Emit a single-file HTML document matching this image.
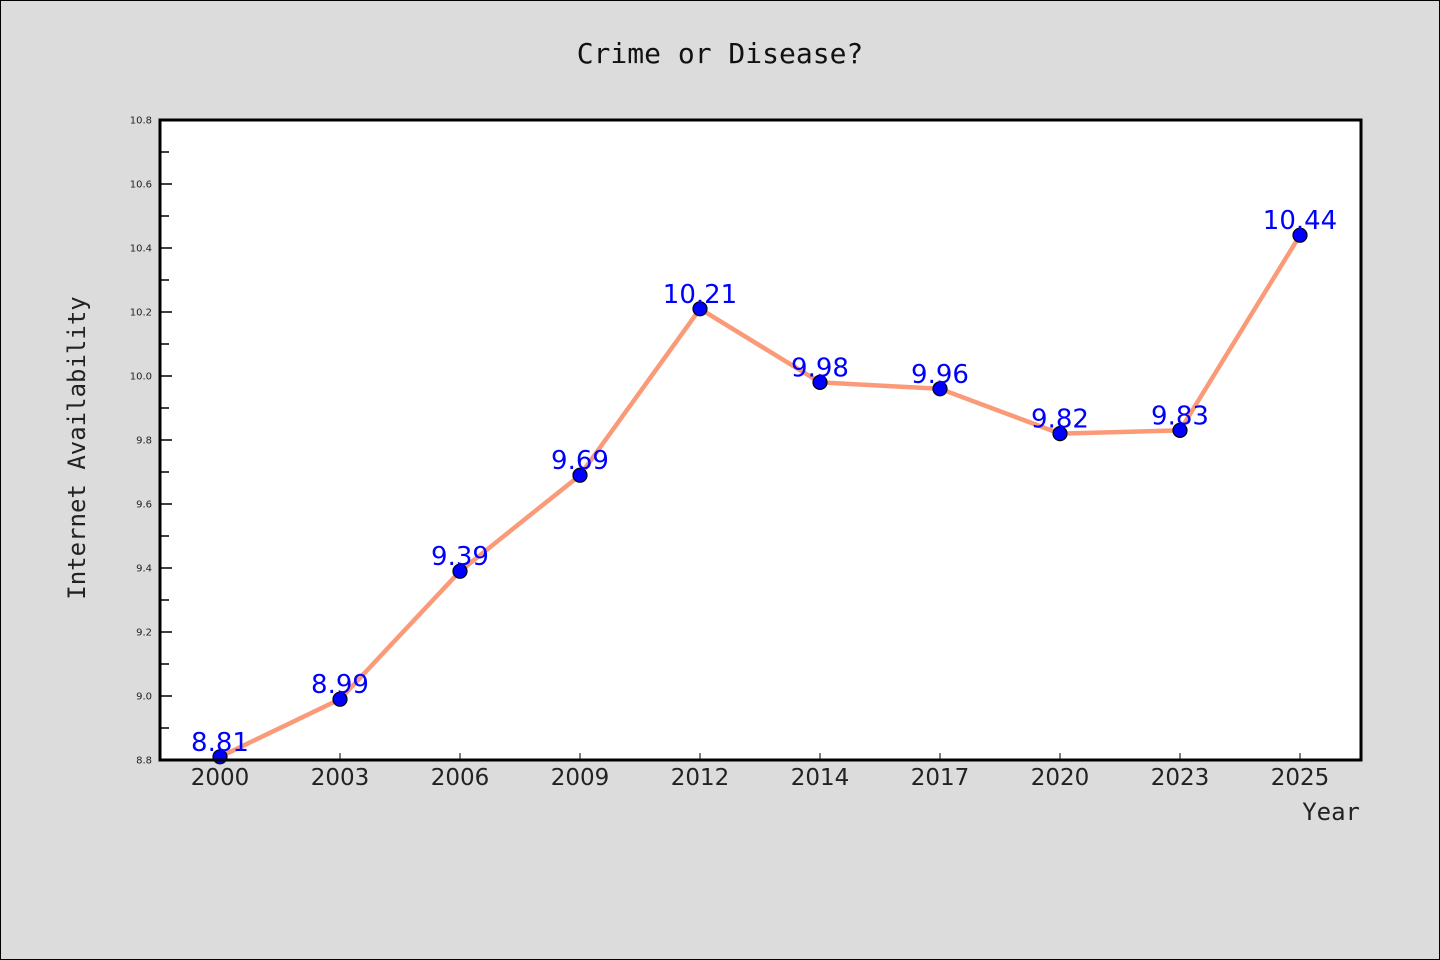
<!DOCTYPE html>
<html><head><meta charset="utf-8"><style>
body{margin:0;background:#dcdcdc;}
svg{display:block}
</style></head><body>
<svg id="chart" width="1440" height="960" xmlns="http://www.w3.org/2000/svg">
<rect x="0.5" y="0.5" width="1439" height="959" fill="#dcdcdc" stroke="#000" stroke-width="1"/>
<text x="720" y="63" text-anchor="middle" font-family="DejaVu Sans Mono, Liberation Mono, monospace" font-size="28" fill="#111">Crime or Disease?</text>
<rect x="160" y="120" width="1201" height="640" fill="#fff"/>
<g id="axes"></g>
<g id="series"></g>
<rect x="160" y="120" width="1201" height="640" fill="none" stroke="#000" stroke-width="3"/>
<text transform="translate(85,448) rotate(-90)" text-anchor="middle" font-family="DejaVu Sans Mono, Liberation Mono, monospace" font-size="24" fill="#222">Internet Availability</text>
<text x="1360" y="820" text-anchor="end" font-family="DejaVu Sans Mono, Liberation Mono, monospace" font-size="24" fill="#222">Year</text>
</svg>
<script>
const categories=["2000","2003","2006","2009","2012","2014","2017","2020","2023","2025"];
const values=[8.81,8.99,9.39,9.69,10.21,9.98,9.96,9.82,9.83,10.44];
const labels=["8.81","8.99","9.39","9.69","10.21","9.98","9.96","9.82","9.83","10.44"];
const yTicks=[8.8,9.0,9.2,9.4,9.6,9.8,10.0,10.2,10.4,10.6,10.8];
const yMin=8.8,yMax=10.8;
const NS="http://www.w3.org/2000/svg";
function x(i){return 220+i*120;}
function y(v){return 760-(v-yMin)/(yMax-yMin)*640;}
function mk(t,a,p){const e=document.createElementNS(NS,t);for(const k in a)e.setAttribute(k,a[k]);p.appendChild(e);return e;}
const ax=document.getElementById('axes'),se=document.getElementById('series');
yTicks.forEach((v,i)=>{
 const l=mk('line',{x1:160,x2:172,y1:y(v),y2:y(v),stroke:'#000','stroke-width':1.5},ax);
 
 
 const t=mk('text',{x:152,y:y(v)+3.5,'text-anchor':'end','font-family':'DejaVu Sans, sans-serif','font-size':10,fill:'#222'},ax);
 
 
 t.textContent=v.toFixed(1);
 if(i<yTicks.length-1){
  const m=mk('line',{x1:160,x2:169,y1:y(v+0.1),y2:y(v+0.1),stroke:'#000','stroke-width':1.5},ax);
  
  
 }
});
categories.forEach((c,i)=>{
 const l=mk('line',{x1:x(i),x2:x(i),y1:760,y2:753,stroke:'#000','stroke-width':1},ax);
 
 
 const t=mk('text',{x:x(i),y:785,'text-anchor':'middle','font-family':'DejaVu Sans, sans-serif','font-size':23,fill:'#222'},ax);
 
 
 t.textContent=c;
});
const pts=values.map((v,i)=>x(i)+','+y(v)).join(' ');
const pl=mk('polyline',{points:pts,fill:'none',stroke:'#fa9a78','stroke-width':4.5,'stroke-linejoin':'round'},se);


values.forEach((v,i)=>{
 const c=mk('circle',{cx:x(i),cy:y(v),r:7,fill:'#0000ff',stroke:'#000','stroke-width':1.2},se);
 
 
});
values.forEach((v,i)=>{
 const t=mk('text',{x:x(i),y:y(v)-6,'text-anchor':'middle','font-family':'DejaVu Sans, sans-serif','font-size':26,fill:'#0000ff'},se);
 
 
 t.textContent=labels[i];
});
</script>
</body></html>
